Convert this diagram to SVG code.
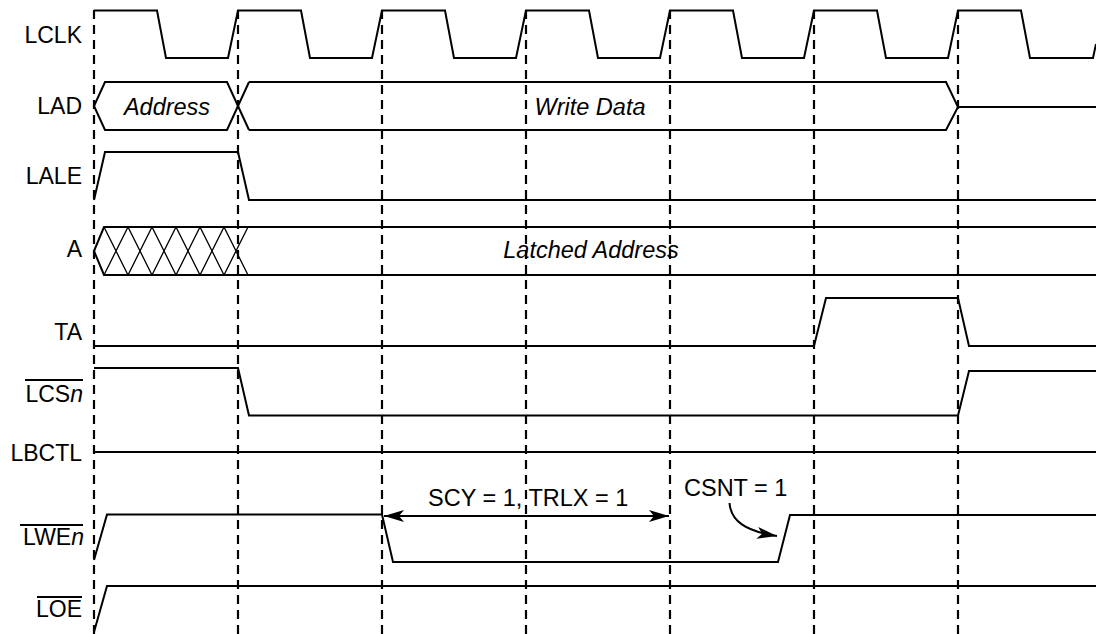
<svg xmlns="http://www.w3.org/2000/svg" width="1096" height="634" viewBox="0 0 1096 634">
<style>
.lbl{font-family:"Liberation Sans",Arial,sans-serif;font-size:23px;fill:#000;text-anchor:end}
.it{font-family:"Liberation Sans",Arial,sans-serif;font-size:23.5px;font-style:italic;fill:#000;text-anchor:middle}
.ann{font-family:"Liberation Sans",Arial,sans-serif;font-size:23.5px;fill:#000}
.sig{fill:none;stroke:#000;stroke-width:2;stroke-linejoin:miter}
.thin{fill:none;stroke:#000;stroke-width:1.3}
.grid{stroke:#000;stroke-width:2.2;stroke-dasharray:9 6}
.ol{stroke:#000;stroke-width:2}
</style>
<defs>
<marker id="ah" viewBox="0 0 20 12" refX="20" refY="6" markerWidth="20" markerHeight="12" markerUnits="userSpaceOnUse" orient="auto-start-reverse">
<path d="M0,0 L20,6 L0,12 L5,6 Z" fill="#000"/>
</marker>
</defs>
<rect width="1096" height="634" fill="#fff"/>
<g id="gridlines">
<line class="grid" x1="94" y1="10" x2="94" y2="634"/>
<line class="grid" x1="238" y1="10" x2="238" y2="634"/>
<line class="grid" x1="382" y1="10" x2="382" y2="634"/>
<line class="grid" x1="526" y1="10" x2="526" y2="634"/>
<line class="grid" x1="670" y1="10" x2="670" y2="634"/>
<line class="grid" x1="814" y1="10" x2="814" y2="634"/>
<line class="grid" x1="958" y1="10" x2="958" y2="634"/>
</g>
<g id="LCLK">
<text class="lbl" x="82" y="43">LCLK</text>
<path class="sig" d="M94,10.5 L157,10.5 L166,58 L228,58 L238,10.5 L301,10.5 L310,58 L372,58 L382,10.5 L445,10.5 L454,58 L516,58 L526,10.5 L589,10.5 L598,58 L660,58 L670,10.5 L733,10.5 L742,58 L804,58 L814,10.5 L877,10.5 L886,58 L948,58 L958,10.5 L1021,10.5 L1030,58 L1093,58 L1096,44"/>
</g>
<g id="LAD">
<text class="lbl" x="82" y="113.5">LAD</text>
<path class="sig" d="M249,82 L227,130 L105,130 L94,106 L105,82 L227,82 L249,130"/>
<path class="sig" d="M249,82 L946,82 L958,107 L946,130 L249,130"/>
<path class="sig" d="M958,107 L1096,107"/>
<text class="it" x="167" y="115">Address</text>
<text class="it" x="590" y="115">Write Data</text>
</g>
<g id="LALE">
<text class="lbl" x="82" y="183.5">LALE</text>
<path class="sig" d="M94,200 L105,152 L238,152 L249,200 L1096,200"/>
</g>
<g id="A">
<text class="lbl" x="82" y="257">A</text>
<path class="sig" d="M1096,227 L104,227 L94,251 L104,275 L1096,275"/>
<path class="thin" d="M104,227 L128,275 L152,227 L176,275 L200,227 L224,275 L248,227 M104,275 L128,227 L152,275 L176,227 L200,275 L224,227 L248,275"/>
<text class="it" x="591" y="258">Latched Address</text>
</g>
<g id="TA">
<text class="lbl" x="82" y="340">TA</text>
<path class="sig" d="M94,346 L814,346 L826,298 L958,298 L969,346 L1096,346"/>
</g>
<g id="LCSn">
<text class="lbl" x="83" y="401.5">LCS<tspan font-style="italic">n</tspan></text>
<line class="ol" x1="25" y1="380" x2="83" y2="380"/>
<path class="sig" d="M94,368 L238,368 L249,415.5 L958,415.5 L969,371 L1096,371"/>
</g>
<g id="LBCTL">
<text class="lbl" x="82" y="460.5">LBCTL</text>
<path class="sig" d="M94,452 L1096,452"/>
</g>
<g id="LWEn">
<text class="lbl" x="84" y="545">LWE<tspan font-style="italic">n</tspan></text>
<line class="ol" x1="20" y1="525" x2="83" y2="525"/>
<path class="sig" d="M94,560 L107,514.5 L382,514.5 L393,562 L778,562 L790,515 L1096,515"/>
</g>
<g id="LOE">
<text class="lbl" x="82" y="616.5">LOE</text>
<line class="ol" x1="37" y1="597" x2="82" y2="597"/>
<path class="sig" d="M94,632 L107,586 L1096,586"/>
</g>
<g id="connectors">
<line class="sig" x1="384" y1="516" x2="669" y2="516" marker-start="url(#ah)" marker-end="url(#ah)"/>
<text class="ann" x="428" y="505.5">SCY = 1, TRLX = 1</text>
<text class="ann" x="684" y="496">CSNT = 1</text>
<path class="sig" d="M729.5,503 C731,521 745,531 777,536" marker-end="url(#ah)"/>
</g>
</svg>
